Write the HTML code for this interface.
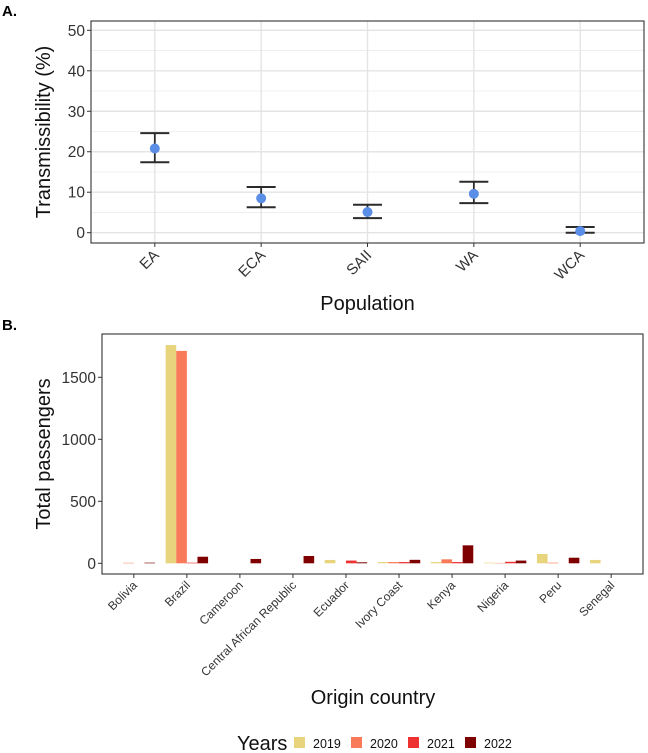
<!DOCTYPE html>
<html><head><meta charset="utf-8"><style>
html,body{margin:0;padding:0;background:#fff;}
svg{display:block;font-family:"Liberation Sans",Arial,sans-serif;}
</style></head><body>
<svg id="c" width="648" height="753" viewBox="0 0 648 753" xmlns="http://www.w3.org/2000/svg">
<text x="2" y="16" font-size="15" font-weight="bold">A.</text>
<text x="2" y="330" font-size="15" font-weight="bold">B.</text>
<g id="top"></g>
<g id="bot"></g>
</svg>
<script>
const popCategories = ["EA","ECA","SAII","WA","WCA"];
const popMean = [20.8, 8.5, 5.1, 9.6, 0.4];
const popLower = [17.4, 6.3, 3.6, 7.3, 0.0];
const popUpper = [24.6, 11.3, 6.9, 12.6, 1.4];
const topTicks = [0,10,20,30,40,50];

const countries = ["Bolivia","Brazil","Cameroon","Central African Republic","Ecuador","Ivory Coast","Kenya","Nigeria","Peru","Senegal"];
const years = ["2019","2020","2021","2022"];
const v2019 = [0, 1760, 0, 0, 27, 10, 10, 5, 75, 27];
const v2020 = [4, 1713, 0, 0, 0, 10, 32, 3, 5, 0];
const v2021 = [0, 5, 0, 0, 22, 10, 10, 12, 0, 0];
const v2022 = [5, 53, 35, 59, 8, 28, 145, 22, 45, 0];
const botTicks = [0,500,1000,1500];

const NS="http://www.w3.org/2000/svg";
function mk(parent,tag,attrs,text){const e=document.createElementNS(NS,tag);for(const k in attrs)e.setAttribute(k,attrs[k]);if(text!==undefined)e.textContent=text;parent.appendChild(e);return e;}
const colors=["#e8d47c","#f87a58","#ee3131","#7f0000"];

// ---- top chart
const T=document.getElementById('top');
const tL=91,tR=644,tT=21,tB=243;
const tyS=v=>232.7-(v/50)*(232.7-30.3);
const tStep=(tR-tL)/(popCategories.length+0.2);
const txS=i=>tL+tStep*(0.6+i);
let e=mk(T,'rect',{x:tL,y:tT,width:tR-tL,height:tB-tT,fill:'#fff'});

for(let i=0;i<topTicks.length-1;i++){const m=(topTicks[i]+topTicks[i+1])/2;
 e=mk(T,'line',{x1:tL,x2:tR,y1:tyS(m),y2:tyS(m),stroke:'#ececec','stroke-width':0.8});
 }
topTicks.forEach(t=>{
 e=mk(T,'line',{x1:tL,x2:tR,y1:tyS(t),y2:tyS(t),stroke:'#e4e4e4','stroke-width':1.4});
 
 e=mk(T,'line',{x1:tL-4,x2:tL,y1:tyS(t),y2:tyS(t),stroke:'#333','stroke-width':1});
 
 e=mk(T,'text',{x:tL-6,y:tyS(t)+5.5,'font-size':15.5,'text-anchor':'end',fill:'#333'},String(t));
 
});
popCategories.forEach((c,i)=>{
 const x=txS(i);
 e=mk(T,'line',{x1:x,x2:x,y1:tT,y2:tB,stroke:'#e4e4e4','stroke-width':1.4});
 
 e=mk(T,'line',{x1:x,x2:x,y1:tB,y2:tB+4,stroke:'#333','stroke-width':1});
 
 e=mk(T,'text',{x:x+5,y:tB+13,'font-size':15,'text-anchor':'end',fill:'#333',transform:`rotate(-45 ${x+5} ${tB+13})`},c);
 
 const g=mk(T,'g',{});
 
 mk(g,'line',{x1:x,x2:x,y1:tyS(popLower[i]),y2:tyS(popUpper[i]),stroke:'#2b2b2b','stroke-width':1.8});
 mk(g,'line',{x1:x-14.5,x2:x+14.5,y1:tyS(popLower[i]),y2:tyS(popLower[i]),stroke:'#2b2b2b','stroke-width':2});
 mk(g,'line',{x1:x-14.5,x2:x+14.5,y1:tyS(popUpper[i]),y2:tyS(popUpper[i]),stroke:'#2b2b2b','stroke-width':2});
 e=mk(T,'circle',{cx:x,cy:tyS(popMean[i]),r:5,fill:'#5b8ee6'});
 
});
e=mk(T,'rect',{x:tL,y:tT,width:tR-tL,height:tB-tT,fill:'none',stroke:'#333','stroke-width':1.1});

e=mk(T,'text',{x:50,y:(tT+tB)/2,'font-size':20,'text-anchor':'middle',fill:'#111',transform:`rotate(-90 50 ${(tT+tB)/2})`},'Transmissibility (%)');

e=mk(T,'text',{x:(tL+tR)/2,y:310,'font-size':20,'text-anchor':'middle',fill:'#111'},'Population');


// ---- bottom chart
const B=document.getElementById('bot');
const bL=102,bR=643,bT=334,bB=574;
const byS=v=>563.3-v*(563.3-377.3)/1500;
const bStep=(bR-bL)/(countries.length+0.2);
const bxS=i=>bL+bStep*(0.6+i);
const barW=bStep*0.8/4;
const series=[v2019,v2020,v2021,v2022];
e=mk(B,'rect',{x:bL,y:bT,width:bR-bL,height:bB-bT,fill:'#fff'});

botTicks.forEach(t=>{
 e=mk(B,'line',{x1:bL-4,x2:bL,y1:byS(t),y2:byS(t),stroke:'#333','stroke-width':1});
 
 e=mk(B,'text',{x:bL-6,y:byS(t)+5.5,'font-size':15.5,'text-anchor':'end',fill:'#333'},String(t));
 
});
countries.forEach((c,i)=>{
 const x=bxS(i);
 series.forEach((s,k)=>{
  const v=s[i]; if(v<=0) return;
  const bx=x-2*barW+k*barW;
  e=mk(B,'rect',{x:bx,y:byS(v),width:barW,height:byS(0)-byS(v),fill:colors[k]});
  
  
 });
 e=mk(B,'line',{x1:x,x2:x,y1:bB,y2:bB+4,stroke:'#333','stroke-width':1});
 
 e=mk(B,'text',{x:x+4,y:bB+12,'font-size':12,'text-anchor':'end',fill:'#333',transform:`rotate(-45 ${x+4} ${bB+12})`},c);
 
});
e=mk(B,'rect',{x:bL,y:bT,width:bR-bL,height:bB-bT,fill:'none',stroke:'#333','stroke-width':1.1});

e=mk(B,'text',{x:50,y:(bT+bB)/2,'font-size':20,'text-anchor':'middle',fill:'#111',transform:`rotate(-90 50 ${(bT+bB)/2})`},'Total passengers');

e=mk(B,'text',{x:373,y:704,'font-size':20,'text-anchor':'middle',fill:'#111'},'Origin country');

// legend
const lg=mk(B,'g',{});

e=mk(lg,'text',{x:237,y:750,'font-size':20,fill:'#111'},'Years');

const lx=[294,351,408,465];
years.forEach((y,k)=>{
 e=mk(lg,'rect',{x:lx[k],y:737,width:11,height:11,fill:colors[k]});
 
 e=mk(lg,'text',{x:lx[k]+19,y:748,'font-size':12.5,fill:'#111'},y);
 
});
</script>
</body></html>
